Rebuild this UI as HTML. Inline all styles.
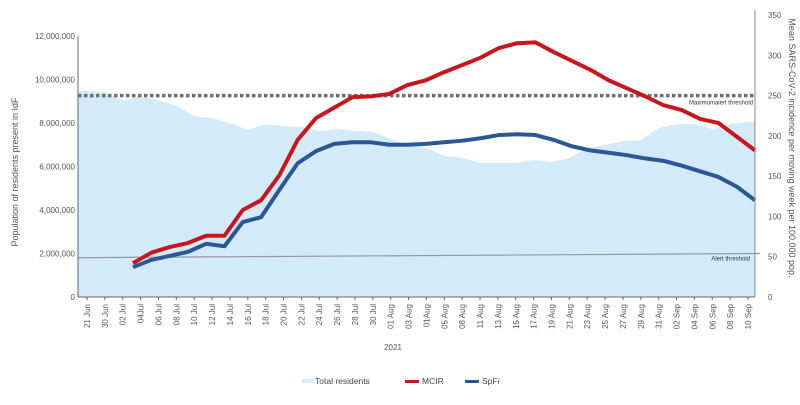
<!DOCTYPE html>
<html><head><meta charset="utf-8"><style>
html,body{margin:0;padding:0;background:#fff;width:800px;height:405px;overflow:hidden}
text{font-family:"Liberation Sans",sans-serif;fill:#555}
</style></head><body>
<svg id="chart" width="800" height="405" viewBox="0 0 800 405" xmlns="http://www.w3.org/2000/svg">
<g id="area"></g><g id="grid"></g><g id="lines"></g><g id="axes"></g>
</svg>
<script>
const categories=["21 Jun","30 Jun","02 Jul","04Jul","06 Jul","08 Jul","10 Jul","12 Jul","14 Jul","16 Jul","18 Jul","20 Jul","22 Jul","24 Jul","26 Jul","28 Jul","30 Jul","01 Aug","03 Aug","01Aug","05 Aug","08 Aug","11 Aug","13 Aug","15 Aug","17 Aug","19 Aug","21 Aug","23 Aug","25 Aug","27 Aug","29 Aug","31 Aug","02 Sep","04 Sep","06 Sep","08 Sep","10 Sep"];
const residents=[9.47,9.42,9.05,9.2,9.05,8.78,8.32,8.23,8.0,7.68,7.95,7.86,7.82,7.63,7.72,7.63,7.59,7.26,6.99,6.85,6.48,6.39,6.16,6.16,6.16,6.3,6.2,6.39,6.85,6.99,7.17,7.22,7.77,7.95,7.95,7.72,7.95,8.05];
const mcir=[null,null,null,42,55,62,67,76,76,108,120,151,195,222,235,248,249,252,263,269,279,288,297,309,315,316,304,293,282,269,259,249,238,232,221,216,199,182];
const spfi=[null,null,null,37,46,51,56,66,63,93,99,133,166,181,190,192,192,189,189,190,192,194,197,201,202,201,195,187,182,179,176,172,169,163,156,149,137,120];
const leftTicks=["0","2,000,000","4,000,000","6,000,000","8,000,000","10,000,000","12,000,000"];
const rightTicks=["0","50","100","150","200","250","300","350"];
const maxAlert=250, alertStart=50, alertEnd=54;

const NS="http://www.w3.org/2000/svg";
const X0=78,X1=755,Y0=297;
const xs=i=>87+i*(748-87)/(categories.length-1);
const lx=i=>133+(i-3)*(755-133)/(categories.length-4);
const yL=v=>Y0-v*(261/12);   // millions
const yR=v=>Y0-v*(282/350);
function mk(tag,attrs,parent,txt){const e=document.createElementNS(NS,tag);for(const k in attrs)e.setAttribute(k,attrs[k]);if(txt!==undefined)e.textContent=txt;document.getElementById(parent).appendChild(e);return e;}

// area
let d=`M${X0},${Y0} L${X0},${yL(residents[0])}`;
residents.forEach((v,i)=>d+=` L${xs(i)},${yL(v)}`);
d+=` L${X1},${yL(residents[residents.length-1])} L${X1},${Y0} Z`;
let a=mk('path',{d,fill:'#d3eaf8'},'area');



// thresholds
let t1=mk('line',{x1:X0,x2:X1,y1:yR(maxAlert),y2:yR(maxAlert),stroke:'#707070','stroke-width':3.5,'stroke-dasharray':'3.5 2.5'},'grid');


let t1l=mk('text',{x:753,y:yR(maxAlert)+9,'font-size':6,'text-anchor':'end',style:'fill:#333'},'grid','Maximumalert threshold');


let t2=mk('line',{x1:X0,x2:760,y1:yR(alertStart)+1,y2:yR(alertEnd),stroke:'#999','stroke-width':1.2},'grid');


let t2l=mk('text',{x:750,y:yR(alertEnd)+7,'font-size':6,'text-anchor':'end',style:'fill:#333'},'grid','Alert threshold');



// lines
function series(arr,color,name){let p='';arr.forEach((v,i)=>{if(v===null)return;p+=(p?' L':'M')+lx(i)+','+yR(v);});
 const e=mk('path',{d:p,fill:'none',stroke:color,'stroke-width':4,'stroke-linejoin':'round'},'lines');
 
 }
series(mcir,'#c8161d','mcir-line');
series(spfi,'#2b5797','spfi-line');

// axes
let la=mk('line',{x1:X0,x2:X0,y1:36,y2:Y0,stroke:'#666'},'axes');


let ba=mk('line',{x1:X0,x2:X1,y1:Y0,y2:Y0,stroke:'#666'},'axes');


let ra=mk('line',{x1:X1,x2:X1,y1:10,y2:Y0,stroke:'#888'},'axes');


leftTicks.forEach((t,i)=>{const e=mk('text',{x:75,y:yL(i*2)+3,'font-size':8,'text-anchor':'end'},'axes',t);
 
 });
rightTicks.forEach((t,i)=>{const e=mk('text',{x:768,y:yR(i*50)+3,'font-size':8},'axes',t);
 
 });
categories.forEach((c,i)=>{const x=xs(i);
 const tk=mk('line',{x1:x,x2:x,y1:Y0,y2:Y0+3,stroke:'#666'},'axes');
 
 
 const e=mk('text',{x:0,y:0,'font-size':8,'text-anchor':'end',transform:`translate(${x+3},${Y0+7}) rotate(-90)`},'axes',c);
 
 });
let yr=mk('text',{x:393,y:350,'font-size':8,'text-anchor':'middle'},'axes','2021');


let lt=mk('text',{x:0,y:0,'font-size':9,'text-anchor':'middle',transform:'translate(18,172) rotate(-90)'},'axes','Population of residents present in IdF');


let rt=mk('text',{x:0,y:0,'font-size':9,'text-anchor':'middle',transform:'translate(789,148) rotate(90)'},'axes','Mean SARS-CoV-2 incidence per moving week per 100,000 pop.');



// legend
let l1=mk('rect',{x:302,y:379,width:12,height:4,fill:'#d3eaf8'},'axes');


let l1t=mk('text',{x:315,y:384,'font-size':8.5,style:'fill:#444'},'axes','Total residents');


let l2=mk('rect',{x:405,y:380,width:14,height:3,fill:'#c8161d'},'axes');


let l2t=mk('text',{x:422,y:384,'font-size':8.5,style:'fill:#444'},'axes','MCIR');


let l3=mk('rect',{x:465,y:380,width:14,height:3,fill:'#2b5797'},'axes');


let l3t=mk('text',{x:482,y:384,'font-size':8.5,style:'fill:#444'},'axes','SpF');


const it=document.createElementNS(NS,'tspan');it.setAttribute('font-style','italic');it.textContent='i';l3t.appendChild(it);
</script>
</body></html>
